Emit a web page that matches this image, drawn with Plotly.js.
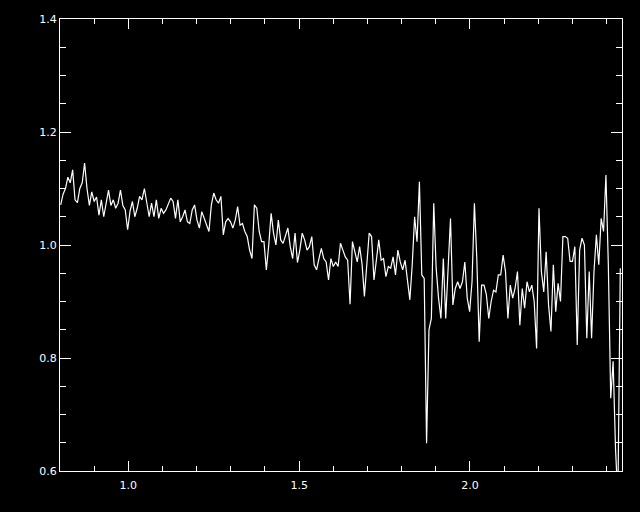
<!DOCTYPE html>
<html>
<head>
<meta charset="utf-8">
<script src="https://cdn.plot.ly/plotly-3.0.1.min.js"></script>
<style>html,body{margin:0;padding:0;background:#000;}#chart{width:640px;height:512px;}</style>
</head>
<body>
<div id="chart"></div>
<script>
// Wavelength sampling grid (microns)
const waveStart = 0.802;
const waveStep = 0.007;

// Normalised flux values
const flux1 = [1.071,1.09,1.10,1.12,1.11,1.133,1.08,1.075,1.10,1.11,
  1.145,1.10,1.07,1.094,1.077,1.085,1.053,1.08,1.05,1.077,
  1.097,1.07,1.08,1.065,1.074,1.097,1.07,1.062,1.027,1.06,
  1.077,1.05,1.065,1.086,1.08,1.10,1.077,1.05,1.074,1.05,
  1.08,1.047,1.065,1.056,1.062,1.071,1.083,1.077,1.047,1.08];
const flux2 = [1.041,1.050,1.062,1.041,1.038,1.062,1.071,1.044,1.030,1.059,
  1.047,1.038,1.024,1.071,1.092,1.080,1.074,1.086,1.018,1.041,
  1.047,1.041,1.030,1.044,1.068,1.035,1.038,1.024,1.015,0.991,
  0.976,1.071,1.065,1.024,1.006,1.006,0.956,1.000,1.056,1.021,
  1.000,1.044,1.009,1.003,1.015,1.030,0.997,0.976];
const flux3 = [1.021,0.969,0.991,1.021,1.009,0.991,0.997,1.015,0.965,0.956,
  0.976,0.994,0.976,0.970,0.938,0.976,0.962,0.970,0.962,1.003,
  0.991,0.979,0.973,0.895,1.006,0.985,0.970,0.997,0.967,0.909,
  0.967,1.021,1.015,0.938,0.973,1.009,0.973,0.976,0.944,0.962,
  0.959,0.979,0.947,0.991,0.970,0.956,0.973,0.938,0.903];
const flux4 = [0.965,1.050,1.006,1.112,0.947,0.941,0.649,0.850,0.870,1.074,
  0.959,0.906,0.870,0.976,0.870,0.965,1.047,0.894,0.923,0.935,
  0.923,0.935,0.970,0.906,0.882,0.935,1.074,0.976,0.829,0.929,
  0.929,0.912,0.870,0.900,0.920,0.917,0.947,0.947,0.982,0.953,
  0.870,0.929];
const flux5 = [0.906,0.923,0.953,0.858,0.923,0.888,0.935,0.917,0.929,0.900,
  0.817,1.065,0.953,0.917,0.988,0.894,0.847,0.965,0.882,0.932,
  0.900,1.015,1.015,1.012,0.971,0.971,0.997,0.823,0.991,1.012,
  1.000,0.835,0.953,0.835,0.953,1.018,0.965,1.047,1.024,1.124,
  0.965,0.729,0.794,0.640,0.550,0.959];

const xTickVals = [1.0, 1.5, 2.0];
const xTickText = ['1.0', '1.5', '2.0'];
const yTickVals = [0.6, 0.8, 1.0, 1.2, 1.4];
const yTickText = ['0.6', '0.8', '1.0', '1.2', '1.4'];

const flux = [].concat(flux1, flux2, flux3, flux4, flux5);
const wave = flux.map((_, i) => waveStart + waveStep * i);

const fontSpec = {family: 'DejaVu Sans, Liberation Sans, sans-serif', size: 11, color: '#ffffff'};

const trace = {
  x: wave, y: flux, type: 'scatter', mode: 'lines',
  line: {color: '#ffffff', width: 1.2},
  hoverinfo: 'skip'
};

const layout = {
  width: 640, height: 512,
  paper_bgcolor: '#000000', plot_bgcolor: '#000000',
  margin: {l: 60, r: 18, t: 19, b: 41, pad: 0},
  showlegend: false,
  font: fontSpec,
  xaxis: {
    range: [0.8, 2.445], showgrid: false, zeroline: false,
    showline: true, linecolor: '#ffffff', linewidth: 1, mirror: 'ticks',
    ticks: 'inside', ticklen: 10, tickwidth: 1, tickcolor: '#ffffff',
    tickmode: 'array', tickvals: xTickVals, ticktext: xTickText,
    tickfont: fontSpec, ticklabelstandoff: 4,
    minor: {dtick: 0.1, tick0: 0, ticks: 'inside', ticklen: 5, tickcolor: '#ffffff', showgrid: false}
  },
  yaxis: {
    range: [0.6, 1.4], showgrid: false, zeroline: false,
    showline: true, linecolor: '#ffffff', linewidth: 1, mirror: 'ticks',
    ticks: 'inside', ticklen: 11, tickwidth: 1, tickcolor: '#ffffff',
    tickmode: 'array', tickvals: yTickVals, ticktext: yTickText,
    tickfont: fontSpec,
    minor: {dtick: 0.05, tick0: 0, ticks: 'inside', ticklen: 6, tickcolor: '#ffffff', showgrid: false}
  }
};

Plotly.newPlot('chart', [trace], layout, {staticPlot: true, displayModeBar: false});
</script>
</body>
</html>
